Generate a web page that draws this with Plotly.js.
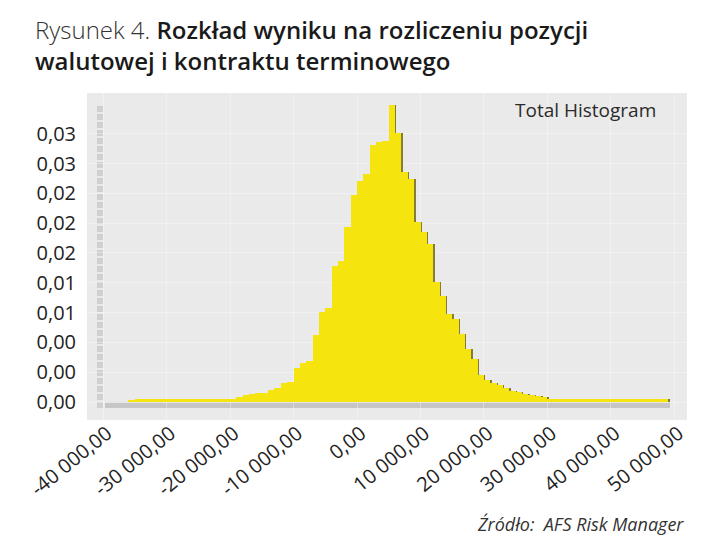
<!DOCTYPE html>
<html>
<head>
<meta charset="utf-8">
<script src="https://cdn.plot.ly/plotly-3.0.1.min.js"></script>
<style>
  html, body { margin: 0; padding: 0; background: #ffffff; }
  #chart { width: 710px; height: 545px; }
</style>
</head>
<body>
<div id="chart"></div>
<script>
// Bin centres of the histogram (result, PLN)
const binCenters = [
  -35500, -34500, -33500, -32500, -31500, -30500, -29500, -28500, -27500, -26500,
  -25500, -24500, -23500, -22500, -21500, -20500, -19500, -18500, -17500, -16500,
  -15500, -14500, -13500, -12500, -11500, -10500, -9500, -8500, -7500, -6500,
  -5500, -4500, -3500, -2500, -1500, -500, 500, 1500, 2500, 3500,
  4500, 5500, 6500, 7500, 8500, 9500, 10500, 11500, 12500, 13500,
  14500, 15500, 16500, 17500, 18500, 19500, 20500, 21500, 22500, 23500,
  24500, 25500, 26500, 27500, 28500, 29500, 30500, 31500, 32500, 33500,
  34500, 35500, 36500, 37500, 38500, 39500, 40500, 41500, 42500, 43500,
  44500, 45500, 46500, 47500, 48500
];
// Relative frequency
const frequencies = [
  0.0002, 0.0003, 0.0004, 0.0004, 0.0004, 0.0004, 0.0004, 0.0004, 0.0004, 0.0004,
  0.0004, 0.0004, 0.0004, 0.0004, 0.0004, 0.0004, 0.0004, 0.0006, 0.0008, 0.0009,
  0.0010, 0.0011, 0.0014, 0.0016, 0.0022, 0.0024, 0.0040, 0.0046, 0.0048, 0.0079,
  0.0106, 0.0110, 0.0160, 0.0166, 0.0205, 0.0243, 0.0260, 0.0268, 0.0302, 0.0305,
  0.0306, 0.0349, 0.0316, 0.0270, 0.0262, 0.0211, 0.0200, 0.0185, 0.0141, 0.0125,
  0.0103, 0.0098, 0.0080, 0.0062, 0.0050, 0.0032, 0.0026, 0.0022, 0.0020, 0.0016,
  0.0013, 0.0012, 0.0009, 0.0008, 0.0007, 0.0006, 0.0004, 0.0004, 0.0004, 0.0004,
  0.0004, 0.0004, 0.0004, 0.0004, 0.0004, 0.0004, 0.0004, 0.0004, 0.0004, 0.0004,
  0.0004, 0.0004, 0.0004, 0.0004, 0.0003
];
const binWidth = 1000;

const xTickVals = [-40000, -30000, -20000, -10000, 0, 10000, 20000, 30000, 40000, 50000];
const xTickText = ['-40 000,00', '-30 000,00', '-20 000,00', '-10 000,00', '0,00',
                   '10 000,00', '20 000,00', '30 000,00', '40 000,00', '50 000,00'];
const yTickVals = [0, 0.0035, 0.007, 0.0105, 0.014, 0.0175, 0.021, 0.0245, 0.028, 0.0315];
const yTickText = ['0,00', '0,00', '0,00', '0,01', '0,01', '0,02', '0,02', '0,02', '0,03', '0,03'];

const FONT = '"Open Sans", "Noto Sans", sans-serif';

const shadow = {
  type: 'bar',
  x: binCenters,
  y: frequencies,
  width: binWidth,
  offset: -binWidth / 2 + 220,
  marker: { color: '#857d35', line: { width: 0 } },
  hoverinfo: 'skip',
  showlegend: false
};
const bars = {
  type: 'bar',
  x: binCenters,
  y: frequencies,
  width: binWidth,
  marker: { color: '#f6e40f', line: { width: 0 } },
  name: 'Total Histogram',
  showlegend: false
};

const layout = {
  width: 710,
  height: 545,
  paper_bgcolor: '#ffffff',
  plot_bgcolor: '#eaeaea',
  margin: { l: 87, r: 23, t: 93, b: 125 },
  barmode: 'overlay',
  bargap: 0,
  font: { family: FONT, color: '#222222' },
  title: {
    text: '<span style="font-weight:300;color:#333">Rysunek 4. </span><span style="font-weight:600">Rozkład wyniku na rozliczeniu pozycji</span><br><span style="font-weight:600">walutowej i kontraktu terminowego</span>',
    font: { family: FONT, size: 24, color: '#1a1a1a' },
    x: 35 / 710, xref: 'container', xanchor: 'left',
    y: 1 - 39 / 545, yref: 'container', yanchor: 'top'
  },
  xaxis: {
    range: [-42520, 51970],
    tickvals: xTickVals,
    ticktext: xTickText,
    tickangle: -39,
    tickfont: { family: FONT, size: 20, color: '#222222' },
    ticks: '',
    ticklabelshift: 4,
    ticklabelstandoff: -3,
    showgrid: true,
    gridcolor: 'rgba(255,255,255,0.35)',
    gridwidth: 1,
    zeroline: false,
    showline: false,
    fixedrange: true
  },
  yaxis: {
    range: [-0.002114, 0.03629],
    tickvals: yTickVals,
    ticktext: yTickText,
    tickfont: { family: FONT, size: 20, color: '#222222' },
    ticks: '',
    ticklabelstandoff: 10,
    showgrid: true,
    gridcolor: 'rgba(255,255,255,0.35)',
    gridwidth: 1,
    zeroline: false,
    showline: false,
    fixedrange: true
  },
  shapes: [
    { type: 'rect', xref: 'paper', yref: 'paper',
      x0: (105 - 87) / 600, x1: (670 - 87) / 600,
      y0: (420 - 408) / 327, y1: (420 - 402.5) / 327,
      fillcolor: '#c6c6c6', line: { width: 0 }, layer: 'below' },
    { type: 'line', xref: 'paper', yref: 'paper',
      x0: (100 - 87) / 600, x1: (100 - 87) / 600,
      y0: (420 - 408) / 327, y1: (420 - 104) / 327,
      line: { color: '#d0d0d0', width: 6, dash: '6px,2px' }, layer: 'below' }
  ],
  annotations: [
    { text: 'Total Histogram', xref: 'paper', yref: 'paper',
      x: (658 - 87) / 600, xanchor: 'right',
      y: (420 - 110) / 327, yanchor: 'middle',
      showarrow: false, font: { family: FONT, size: 19, color: '#2a2a2a' } },
    { text: '<i>Źródło:  AFS Risk Manager</i>', xref: 'paper', yref: 'paper',
      x: (686 - 87) / 600, xanchor: 'right',
      y: (420 - 524) / 327, yanchor: 'middle',
      showarrow: false, font: { family: FONT, size: 18, color: '#333333' } }
  ]
};

Plotly.newPlot('chart', [shadow, bars], layout, { displayModeBar: false, staticPlot: true });
</script>
</body>
</html>
